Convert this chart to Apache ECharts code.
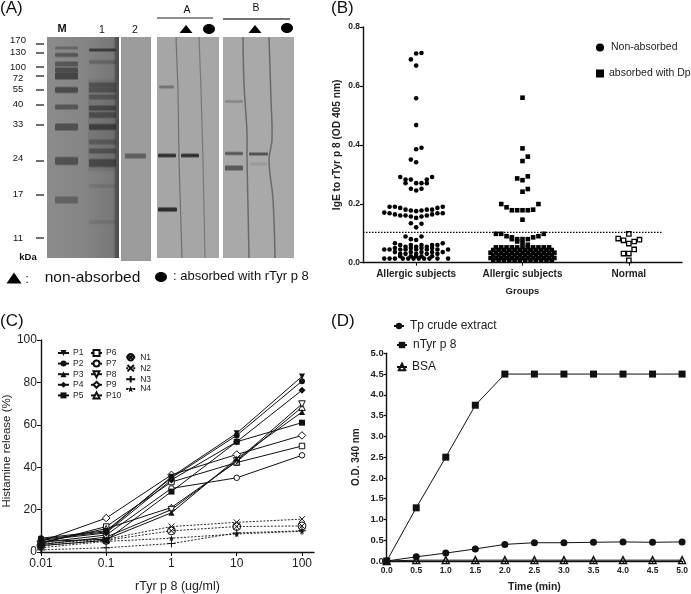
<!DOCTYPE html>
<html><head><meta charset="utf-8">
<style>html,body{margin:0;padding:0;background:#fff}#c{width:691px;height:594px;filter:blur(0.35px)}</style>
<script src="https://cdn.jsdelivr.net/npm/echarts@6/dist/echarts.min.js"></script>
</head><body><div id="c"></div>
<script>
const FONT='"Liberation Sans",Arial,sans-serif';
// ---------- Panel B data: rows of [value, [swarm offsets]]
const groupNames=['Allergic subjects','Allergic subjects','Normal'];
const nonAbsorbedRows=[[.712,[1]],[.71,[0]],[.69,[-1]],[.669,[0]],[.558,[0]],[.467,[0]],[.39,[1]],[.385,[0]],[.35,[-1]],[.341,[0]],
[.291,[-3,3]],[.282,[-2,-1,2]],[.27,[-2,0,1,2]],[.251,[-1,1]],[.245,[0]],
[.19,[-5,-4,5]],[.186,[-3,4]],[.18,[-2,2,3]],[.177,[-1,1]],[.175,[0]],
[.17,[-6]],[.168,[-5,4,5]],[.164,[-4,3]],[.16,[-3,-2,2]],[.157,[-1,1]],[.152,[0]],[.134,[-1]],[.132,[1]],[.12,[0]],
[.089,[-2,1]],[.08,[-1]],[.077,[0]],
[.066,[-4,5]],[.06,[-3,-1,1,3,4]],[.054,[-2,0,2]],[.05,[-4,-1,1,3]],[.045,[-6,-5,-3,-2,0,2,4,6]],
[.036,[-4,-1,1,3,5]],[.03,[-3,-2,0,2,4]],[.022,[-3,-1,0,1,3]],[.014,[-6,-5,-4,-2.5,-1.5,-.5,.5,1.5,2.5,4,6]]];
const absorbedRows=[[.56,[0]],[.388,[0]],[.36,[1]],[.345,[0]],[.293,[1]],[.286,[-1]],[.28,[0]],[.25,[1]],[.241,[0]],
[.199,[-4,3]],[.188,[-3]],[.178,[-2,-1,0,1]],[.18,[2]],[.146,[0]],
[.098,[-5,-4,4]],[.09,[-3,3]],[.086,[-2,2]],[.08,[-2,-1,0,1]],[.072,[-1]],[.066,[0]],[.061,[1]],
[.052,[-5,-4,-3,-2,-1,0,1,2,3,4,5]],[.043,[-5.5,-4.5,-3.5,-2.5,-1.5,-.5,.5,1.5,2.5,3.5,4.5,5.5]],
[.034,[-6,-5,-4,-3,-2,-1,0,1,2,3,4,5,6]],[.025,[-5.5,-4.5,-3.5,-2.5,-1.5,-.5,.5,1.5,2.5,3.5,4.5,5.5]],
[.016,[-6,-5,-4,-3,-2,-1,0,1,2,3,4,5,6]],[.008,[-5.5,-4.5,-3.5,-2.5,-1.5,-.5,.5,1.5,2.5,3.5,4.5,5.5]]];
const normalRows=[[.098,[0]],[.082,[-2]],[.076,[-1]],[.065,[0]],[.072,[1]],[.078,[2]],[.045,[1]],[.031,[-1,0]],[.008,[0]]];
const cutoff=0.103;
// ---------- Panel C data
const doses=[0.01,0.1,1,10,100];
const P1=[6,9.5,35.5,56,82.8],P2=[6.5,10,35,55,80.6],P3=[5,6,18.5,44,66],P4=[5.5,9,34,52,76.3],P5=[3,5.5,28.5,52,61];
const P6=[4,12,33,42.2,50],P7=[4.5,8,30,35,45.6],P8=[3.5,7,20,43,69.8],P9=[5,16,36.4,46,55],P10=[4.5,11,21,42.6,68.3];
const N1=[3,5.5,10,12,12.3],N2=[4,6,12,14,15.5],N3=[1,2,4,9,10],N4=[2,5,6.5,8.5,9.8];
// ---------- Panel D data
const times=[0,.5,1,1.5,2,2.5,3,3.5,4,4.5,5];
const crude=[0,.1,.19,.29,.4,.44,.44,.45,.46,.45,.46];
const nTyr=[0,1.28,2.5,3.75,4.5,4.5,4.5,4.5,4.5,4.5,4.5];
const bsa=[0,.02,.02,.02,.02,.02,.02,.02,.02,.02,.02];
// ---------- Panel A labels
const kDaLabels=['170','130','100','72','55','40','33','24','17','11'];
const kDaLabelY=[40,52,67,78,89,104,124,158,194,238];
const kDaTickY=[44,53,67,76,90,105,125,161,195,238];
// gel bands: [y, core height, darkness]
const markerBands=[[48,1,.3],[55,2,.45],[64,3,.45],[70,3,.55],[76,5,.6],[90,4,.55],[107,3,.45],[127,5,.5],[161,6,.5],[200,5,.35]];
const lane1Bands=[[50,1,.65],[62,2,.25],[85,3,.4],[90,3,.4],[97,3,.35],[108,3,.5],[115,4,.45],[127,4,.6],[142,3,.3],[151,3,.4],[163,6,.5],[186,2,.12],[222,2,.12]];

function swarm(rows,g){const o=[];rows.forEach(r=>r[1].forEach(d=>o.push([g+.5+d*.05,r[0]])));return o;}
const g=[];
function T(x,y,text,size,opt){g.push({type:'text',x,y,z:20,style:Object.assign({text,fill:'#111',font:(opt&&opt.bold?'bold ':'')+size+'px '+FONT,textAlign:(opt&&opt.align)||'center',textVerticalAlign:'middle'})});}
function R(x,y,w,h,fill){g.push({type:'rect',z:2,shape:{x,y,width:w,height:h},style:{fill}});}
function band(x,w,y,h,a){const H=h+4,c='rgba(25,25,25,';g.push({type:'rect',z:5,shape:{x,y:y-H/2,width:w,height:H,r:2},style:{fill:{type:'linear',x:0,y:0,x2:0,y2:1,colorStops:[{offset:0,color:c+'0)'},{offset:2/H,color:c+a+')'},{offset:1-2/H,color:c+a+')'},{offset:1,color:c+'0)'}]}}});}
function L(p,stroke,w,z,smooth){g.push({type:'polyline',z:z||6,shape:{points:p,smooth:smooth||0},style:{stroke,lineWidth:w,fill:'none'}});}
function triangle(cx,cy,w,h){g.push({type:'polygon',z:10,shape:{points:[[cx-w/2,cy+h/2],[cx+w/2,cy+h/2],[cx,cy-h/2]]},style:{fill:'#000'}});}
function disc(cx,cy,rx,ry){g.push({type:'ellipse',z:10,shape:{cx,cy,rx,ry},style:{fill:'#000'}});}
// gel strips
g.push({type:'rect',z:1,shape:{x:47,y:37,width:72,height:221},style:{fill:{type:'linear',x:0,y:0,x2:1,y2:0,colorStops:[{offset:0,color:'#8c8c8c'},{offset:.5,color:'#858585'},{offset:.93,color:'#777'},{offset:.95,color:'#555'},{offset:1,color:'#4d4d4d'}]}}});
R(121,37,30,224,'#9b9b9b');R(157,37,62,221,'#a6a6a6');R(223,37,71,221,'#a9a9a9');
band(88,27,125,90,.1);
markerBands.forEach(b=>band(55,23,b[0],b[1],b[2]));
lane1Bands.forEach(b=>band(89,27,b[0],b[1],b[2]));
band(125,21,156,3,.45);
// immunoblot bands
band(159,15,87,1,.35);band(158,18,155.5,1.5,.85);band(158,19,209.5,2.2,.85);band(181,18,155.5,1.5,.85);
band(225,18,101.5,.6,.25);band(225,18,153.5,1,.6);band(225,18,168,3,.55);band(249,19,154,1,.6);band(250,17,164,1,.1);
// strip separators
L([[176,37],[178,90],[179,160],[182,258]],'#707070',1.2);L([[199,37],[201,90],[203,160],[205,258]],'#787878',1.2);
L([[243,37],[244,83],[247,133],[247,157],[248,207],[249,258]],'#6a6a6a',1.5,6,.4);L([[269,37],[271,100],[272,140],[269,160],[273,200],[275,258]],'#6a6a6a',1.5,6,.4);
// kDa labels
kDaLabels.forEach((t,i)=>{T(18,kDaLabelY[i],t,9.5);L([[36,kDaTickY[i]],[44,kDaTickY[i]]],'#222',1.3,10);});
T(28,257,'kDa',9.5,{bold:true});T(62,29,'M',11,{bold:true});T(102,30,'1',10.5);T(135,30,'2',10.5);
T(187,10,'A',10.5);T(256,8,'B',10.5);L([[157,18],[213,18]],'#222',1.2,10);L([[223,19],[290,19]],'#444',1.5,10);
triangle(186,29,13,8);disc(209,29,6,5);triangle(255,29,13,8);disc(287,28,6,5);
triangle(14,278,15,11);T(27,279,':',13);T(92.5,278,'non-absorbed',15.5);disc(161,277,6,5);
T(173,276,': absorbed with rTyr p 8',13,{align:'left'});
// panel tags
T(0,8,'(A)',17,{align:'left'});T(331,8,'(B)',17,{align:'left'});T(0,321,'(C)',17,{align:'left'});T(331,321,'(D)',17,{align:'left'});

const triDown='path://M0 0L10 0L5 10Z';
const star='path://M5 0L6.2 3.6L10 3.6L7 5.9L8.1 9.5L5 7.3L1.9 9.5L3 5.9L0 3.6L3.8 3.6Z';
const xMark='path://M0 0L10 10M10 0L0 10';
const plus='path://M5 0L5 10M0 5L10 5';
const cross='path://M0 5a5 5 0 1 0 10 0a5 5 0 1 0 -10 0ZM1.5 1.5L8.5 8.5M8.5 1.5L1.5 8.5';
function lineS(name,data,symbol,size,hollow,neg){return {name,type:'line',xAxisIndex:1,yAxisIndex:1,data:doses.map((d,i)=>[d,data[i]]),symbol,symbolSize:size,showAllSymbol:true,animation:false,
 lineStyle:neg?{color:'#111',width:.9,type:[2,1.5]}:{color:'#111',width:1},
 itemStyle:hollow==='none'?{color:'none',borderColor:'#111',borderWidth:1}:hollow?{color:'#fff',borderColor:'#111',borderWidth:1}:{color:'#111'}};}
const pSer=[lineS('P7',P7,'circle',5.5,true),lineS('P6',P6,'rect',5.5,true),lineS('P9',P9,'diamond',7.5,true),lineS('P10',P10,'triangle',6.5,true),lineS('P8',P8,triDown,6.5,true),
 lineS('P3',P3,'triangle',6),lineS('P5',P5,'rect',6),lineS('P4',P4,'diamond',7),lineS('P2',P2,'circle',6),lineS('P1',P1,triDown,6)];
const nSer=[lineS('N1',N1,cross,8,'none',true),lineS('N2',N2,xMark,6,'none',true),lineS('N3',N3,plus,8,'none',true),lineS('N4',N4,star,6,false,true)];
function dS(name,data,symbol,size,hollow,z){return {name,type:'line',xAxisIndex:2,yAxisIndex:2,z,data:times.map((t,i)=>[t,data[i]]),symbol,symbolSize:size,showAllSymbol:true,animation:false,
 lineStyle:{color:'#111',width:1},itemStyle:hollow?{color:'none',borderColor:'#111',borderWidth:1.4}:{color:'#111'}};}
function leg(names,left,top,gap,font,w,h,pad){return {data:names,left,top,orient:'vertical',padding:0,itemGap:gap,itemWidth:w,itemHeight:h,textStyle:{fontFamily:FONT,fontSize:font,color:'#222',padding:[0,0,0,pad===undefined?-1:pad]},selectedMode:false};}
const axisCommon={axisLine:{show:true,onZero:false,lineStyle:{color:'#111',width:1.4}},axisTick:{show:true,lineStyle:{color:'#111',width:1.2},length:3},splitLine:{show:false}};
const boldLabel=(s,x)=>Object.assign({fontFamily:FONT,fontWeight:'bold',fontSize:s,color:'#222',margin:3},x||{});
const fmtDose=v=>String(+(+v).toPrecision(2));

const option={animation:false,backgroundColor:'#fff',graphic:g,
 legend:[
  leg(['Non-absorbed'],596,42,0,10.5,8,8,2),leg(['absorbed with Dp'],596,68,0,10.5,8,8,0),
  leg(['P1','P2','P3','P4','P5'],57,348.5,1.6,8.5,11,7.5),leg(['P6','P7','P8','P9','P10'],90,348.5,1.6,8.5,11,7.5),leg(['N1','N2','N3','N4'],125,351.5,-.4,8.5,9,8,0),
  leg(['Tp crude extract'],393,320,0,12,10,8,1),leg(['nTyr p 8'],396,339,0,12,10,8,1),leg(['BSA'],396,361,0,12,10,8,0)
 ],
 grid:[{left:363,top:27,width:319,height:235.7},{left:39.5,top:340,width:274.5,height:213.3},{left:386.7,top:353.3,width:297.3,height:207.7}],
 xAxis:[
  Object.assign({},axisCommon,{gridIndex:0,type:'value',min:0,max:3,position:'bottom',name:'Groups',nameLocation:'middle',nameGap:24,nameTextStyle:{fontFamily:FONT,fontWeight:'bold',fontSize:9.5,color:'#222'},
   axisTick:{show:true,customValues:[.5,1.5,2.5],lineStyle:{color:'#111'},length:3},
   axisLabel:Object.assign(boldLabel(10,{margin:7}),{customValues:[.5,1.5,2.5],formatter:v=>groupNames[Math.floor(v)]})}),
  Object.assign({},axisCommon,{gridIndex:1,type:'log',logBase:10,min:0.01,max:152.8,name:'rTyr p 8 (ug/ml)',nameLocation:'middle',nameGap:28,nameTextStyle:{fontFamily:FONT,fontSize:12.5,color:'#222'},
   axisTick:{show:true,customValues:doses,lineStyle:{color:'#111'},length:4},minorTick:{show:false},
   axisLabel:{customValues:doses,formatter:fmtDose,fontFamily:FONT,fontSize:12,color:'#222',margin:6}}),
  Object.assign({},axisCommon,{gridIndex:2,type:'value',min:0,max:5,interval:.5,name:'Time (min)',nameLocation:'middle',nameGap:21,nameTextStyle:{fontFamily:FONT,fontWeight:'bold',fontSize:10.5,color:'#222'},
   axisLabel:Object.assign(boldLabel(8.5,{margin:5}),{formatter:v=>(+v).toFixed(1),showMinLabel:true,showMaxLabel:true,hideOverlap:false})})
 ],
 yAxis:[
  Object.assign({},axisCommon,{gridIndex:0,type:'value',min:0,max:.8,interval:.2,name:'IgE to rTyr p 8 (OD 405 nm)',nameLocation:'middle',nameGap:21,nameTextStyle:{fontFamily:FONT,fontWeight:'bold',fontSize:10.2,color:'#222'},
   axisLabel:Object.assign(boldLabel(8.5),{formatter:v=>(+v).toFixed(1)})}),
  Object.assign({},axisCommon,{gridIndex:1,type:'value',min:0,max:100,interval:20,name:'Histamine release (%)',nameLocation:'middle',nameGap:24,nameTextStyle:{fontFamily:FONT,fontSize:11.5,color:'#222',padding:[0,10,0,0]},
   axisTick:{show:true,lineStyle:{color:'#111'},length:4},axisLabel:{fontFamily:FONT,fontSize:12,color:'#222',margin:4}}),
  Object.assign({},axisCommon,{gridIndex:2,type:'value',min:0,max:5,interval:.5,name:'O.D. 340 nm',nameLocation:'middle',nameGap:25,nameTextStyle:{fontFamily:FONT,fontWeight:'bold',fontSize:10,color:'#222'},
   axisLabel:Object.assign(boldLabel(9.5),{formatter:v=>(+v).toFixed(1)})})
 ],
 series:[
  {name:'Non-absorbed',type:'scatter',xAxisIndex:0,yAxisIndex:0,data:swarm(nonAbsorbedRows,0),symbol:'circle',symbolSize:4.6,itemStyle:{color:'#000',opacity:1}},
  {name:'absorbed with Dp',type:'scatter',xAxisIndex:0,yAxisIndex:0,data:swarm(absorbedRows,1),symbol:'rect',symbolSize:4.6,itemStyle:{color:'#000',opacity:1}},
  {name:'Normal',type:'scatter',xAxisIndex:0,yAxisIndex:0,data:swarm(normalRows,2),symbol:'rect',symbolSize:4.4,itemStyle:{color:'#fff',borderColor:'#000',borderWidth:1.3,opacity:1}},
  {name:'Cut-off',type:'line',xAxisIndex:0,yAxisIndex:0,data:[[0,cutoff],[2.82,cutoff]],symbol:'none',lineStyle:{color:'#000',width:1.4,type:[1.5,1.5]}},
  ...nSer,...pSer,
  dS('BSA',bsa,'triangle',7,true,3),dS('nTyr p 8',nTyr,'rect',7,false,4),dS('Tp crude extract',crude,'circle',7,false,5)
 ]};
const chart=echarts.init(document.getElementById('c'),null,{renderer:'canvas'});
chart.setOption(option);
</script></body></html>
